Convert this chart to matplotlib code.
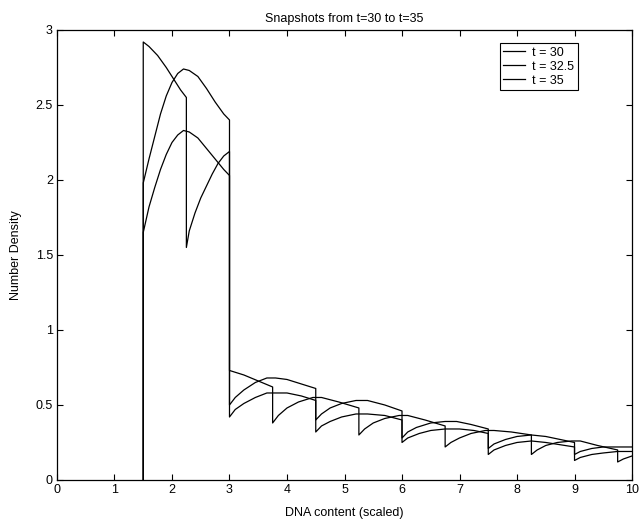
import matplotlib
matplotlib.use("Agg")
import matplotlib.pyplot as plt

plt.rcParams['font.family'] = ['Liberation Sans', 'DejaVu Sans']

# snapshot t = 30
x_30 = [1.5, 1.5, 1.6, 1.75, 1.9, 2.05, 2.15, 2.25,
        2.25, 2.3, 2.4, 2.5, 2.6, 2.7, 2.8, 2.9, 3.0,
        3.0, 3.25, 3.5, 3.75,
        3.75, 3.85, 4.0, 4.2, 4.45, 4.6, 4.9, 5.25,
        5.25, 5.35, 5.5, 5.7, 5.95, 6.1, 6.4, 6.75,
        6.75, 6.85, 7.0, 7.2, 7.45, 7.6, 7.9, 8.25,
        8.25, 8.35, 8.5, 8.7, 8.95, 9.1, 9.4, 9.75,
        9.75, 9.85, 10.0]
y_30 = [0.0, 2.92, 2.89, 2.83, 2.75, 2.66, 2.60, 2.55,
        1.55, 1.66, 1.78, 1.88, 1.96, 2.04, 2.11, 2.16, 2.19,
        0.73, 0.70, 0.66, 0.62,
        0.38, 0.43, 0.48, 0.52, 0.55, 0.55, 0.52, 0.48,
        0.30, 0.34, 0.38, 0.41, 0.43, 0.43, 0.40, 0.36,
        0.22, 0.25, 0.28, 0.31, 0.33, 0.33, 0.32, 0.30,
        0.17, 0.20, 0.23, 0.25, 0.26, 0.26, 0.23, 0.20,
        0.12, 0.14, 0.16]

# snapshot t = 32.5
x_325 = [1.5, 1.5, 1.6, 1.7, 1.8, 1.9, 2.0, 2.1, 2.2, 2.3, 2.45, 2.6, 2.75, 2.9, 3.0,
         3.0, 3.1, 3.25, 3.45, 3.65, 3.8, 4.0, 4.25, 4.5,
         4.5, 4.6, 4.75, 4.95, 5.2, 5.4, 5.7, 6.0,
         6.0, 6.1, 6.25, 6.5, 6.75, 6.95, 7.2, 7.5,
         7.5, 7.6, 7.8, 8.0, 8.25, 8.5, 9.0,
         9.0, 9.1, 9.3, 9.5, 9.75, 10.0]
y_325 = [0.0, 1.98, 2.14, 2.29, 2.44, 2.56, 2.65, 2.71, 2.74, 2.73, 2.69, 2.61, 2.52, 2.44, 2.40,
         0.50, 0.55, 0.60, 0.65, 0.68, 0.68, 0.67, 0.64, 0.61,
         0.40, 0.44, 0.48, 0.51, 0.53, 0.53, 0.50, 0.46,
         0.28, 0.32, 0.35, 0.38, 0.39, 0.39, 0.37, 0.34,
         0.21, 0.24, 0.27, 0.29, 0.30, 0.29, 0.25,
         0.17, 0.19, 0.21, 0.22, 0.22, 0.22]

# snapshot t = 35
x_35 = [1.5, 1.5, 1.6, 1.7, 1.8, 1.9, 2.0, 2.1, 2.2, 2.3, 2.45, 2.6, 2.75, 2.9, 3.0,
        3.0, 3.1, 3.25, 3.45, 3.65, 3.8, 4.0, 4.25, 4.5,
        4.5, 4.6, 4.75, 4.95, 5.2, 5.4, 5.7, 6.0,
        6.0, 6.1, 6.3, 6.5, 6.75, 7.0, 7.25, 7.5,
        7.5, 7.6, 7.8, 8.0, 8.25, 8.5, 9.0,
        9.0, 9.1, 9.3, 9.5, 9.75, 10.0]
y_35 = [0.0, 1.65, 1.82, 1.95, 2.07, 2.17, 2.25, 2.30, 2.33, 2.32, 2.28, 2.21, 2.14, 2.07, 2.03,
        0.42, 0.47, 0.51, 0.55, 0.58, 0.58, 0.58, 0.56, 0.53,
        0.32, 0.36, 0.39, 0.42, 0.44, 0.44, 0.43, 0.40,
        0.25, 0.28, 0.31, 0.33, 0.34, 0.34, 0.33, 0.31,
        0.17, 0.20, 0.23, 0.25, 0.26, 0.25, 0.22,
        0.13, 0.15, 0.17, 0.18, 0.19, 0.19]

labels = ["t = 30", "t = 32.5", "t = 35"]
xticks = [0, 1, 2, 3, 4, 5, 6, 7, 8, 9, 10]
yticks = [0, 0.5, 1, 1.5, 2, 2.5, 3]
ytick_labels = ["0", "0.5", "1", "1.5", "2", "2.5", "3"]

fig = plt.figure(figsize=(6.41, 5.26), dpi=100)
ax = fig.add_axes([0.0889, 0.0875, 0.8971, 0.8555])

for xs, ys, lab in zip([x_30, x_325, x_35], [y_30, y_325, y_35], labels):
    ax.plot(xs, ys, color='black', lw=0.9, label=lab)

ax.set_xlim(0, 10)
ax.set_ylim(0, 3)
ax.set_xticks(xticks)
ax.set_yticks(yticks)
ax.set_yticklabels(ytick_labels)
ax.tick_params(direction='in', top=True, right=True, length=4, width=0.8,
               labelsize=9, pad=3)
for s in ax.spines.values():
    s.set_linewidth(0.9)

ax.set_title("Snapshots from t=30 to t=35", fontsize=9, pad=6)
ax.set_xlabel("DNA content (scaled)", fontsize=9, labelpad=8)
ax.set_ylabel("Number Density", fontsize=9, labelpad=10)

leg = ax.legend(loc='upper right', bbox_to_anchor=(0.906, 0.971), fontsize=9,
                handlelength=1.7, handletextpad=0.6, borderaxespad=0,
                fancybox=False, framealpha=1, labelspacing=0.15,
                borderpad=0.3)
leg.get_frame().set_edgecolor('black')
leg.get_frame().set_linewidth(0.8)

fig.savefig("out.png", dpi=100)
